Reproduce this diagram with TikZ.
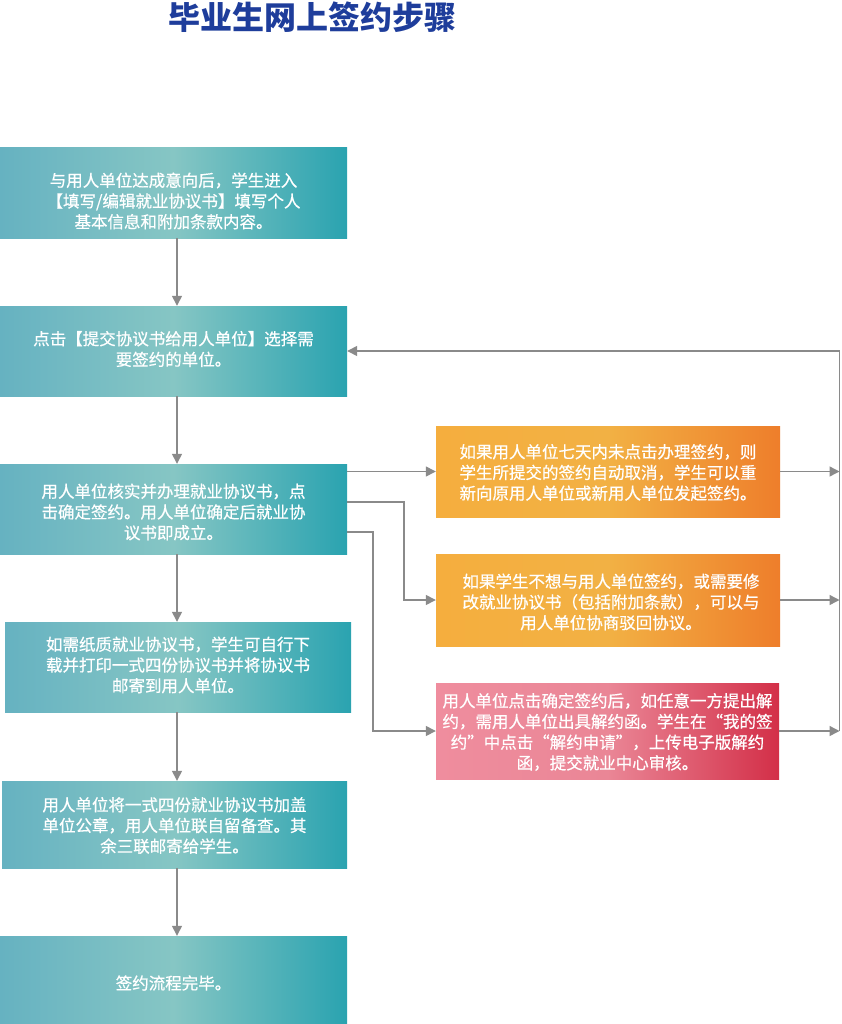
\documentclass[tikz,border=0pt]{standalone}
\usepackage{fontspec}
\newfontfamily\cjk{Noto Sans CJK SC}[FakeBold=0.6]
\newfontfamily\cjkt{Noto Sans CJK SC}
\newfontfamily\cjkfw{Noto Sans CJK SC}[CharacterWidth=Full,FakeBold=0.6]
\usetikzlibrary{arrows.meta,calc}
\definecolor{tealA}{HTML}{66B2C1}
\definecolor{tealB}{HTML}{86C6C4}
\definecolor{tealC}{HTML}{2AA3B0}
\definecolor{orA}{HTML}{F5AE3E}
\definecolor{orB}{HTML}{F2B144}
\definecolor{orC}{HTML}{EE7E2B}
\definecolor{pkA}{HTML}{EF8D9E}
\definecolor{pkB}{HTML}{EA8696}
\definecolor{pkC}{HTML}{D32F48}
\definecolor{linegray}{HTML}{8A8A8A}
\definecolor{titleblue}{HTML}{1E3D9B}
\tikzset{
  boxbase/.style={rectangle, inner sep=0pt, draw=none},
  tealbox/.style={boxbase, minimum width=347pt, minimum height=90pt,
    left color=tealA, right color=tealC, middle color=tealB},
  orbox/.style={boxbase, minimum width=344pt, minimum height=91pt,
    left color=orA, right color=orC, middle color=orB},
  pkbox/.style={boxbase, minimum width=343pt, minimum height=96pt,
    left color=pkA, right color=pkC, middle color=pkB},
  txt/.style={text=white, align=center, inner sep=0pt,
    font=\cjk\fontsize{16.5}{20.7}\selectfont},
  arr/.style={draw=linegray, line width=1.4pt, -{Triangle[length=10pt,width=10pt]}},
}
\begin{document}
\begin{tikzpicture}[x=1pt,y=-1pt]
\useasboundingbox (0,0) rectangle (841,1024);
\fill[white] (0,0) rectangle (841,1024);

\node[text=titleblue, font=\cjkt\bfseries\fontsize{32}{32}\selectfont, inner sep=0pt] (title) at (312,17) {毕业生网上签约步骤};

% left column
\node[tealbox] (b1) at (173.5,193) {};
\node[txt] (t1) at ([yshift=-8pt]b1.center) {与用人单位达成意向后，学生进入\\【填写/编辑就业协议书】填写个人\\基本信息和附加条款内容。};

\node[tealbox] (b2) at (173.5,351) {};
\node[txt] (t2) at ([yshift=2pt]b2.center) {点击【提交协议书给用人单位】选择需\\要签约的单位。};

\node[tealbox] (b3) at (173.5,509) {};
\node[txt] (t3) at ([yshift=-3pt]b3.center) {用人单位核实并办理就业协议书，点\\击确定签约。用人单位确定后就业协\\议书即成立。};

\node[tealbox, minimum width=346pt] (b4) at (178,667) {};
\node[txt] (t4) at ([yshift=2pt]b4.center) {如需纸质就业协议书，学生可自行下\\载并打印一式四份协议书并将协议书\\邮寄到用人单位。};

\node[tealbox, minimum width=345pt, minimum height=87pt] (b5) at (174.5,824.5) {};
\node[txt] (t5) at ([yshift=-1pt]b5.center) {用人单位将一式四份就业协议书加盖\\单位公章，用人单位联自留备查。其\\余三联邮寄给学生。};

\node[tealbox, minimum height=88pt] (b6) at (173.5,980) {};
\node[txt] (t6) at ([yshift=-3pt]b6.center) {签约流程完毕。};

% right column
\node[orbox] (o1) at (608,471.5) {};
\node[txt] (u1) at ([yshift=-1pt]o1.center) {如果用人单位七天内未点击办理签约，则\\学生所提交的签约自动取消，学生可以重\\新向原用人单位或新用人单位发起签约。};

\node[orbox, minimum height=92pt] (o2) at (608,600) {};
\node[txt] (u2) at ([xshift=3pt,yshift=-2pt]o2.center) {如果学生不想与用人单位签约，或需要修\\改就业协议书（包括附加条款），可以与\\用人单位协商驳回协议。};

\node[pkbox] (p1) at (607.5,731) {};
\node[txt] (v1) at ([yshift=-1pt]p1.center) {用人单位点击确定签约后，如任意一方提出解\\约，需用人单位出具解约函。学生在{\cjkfw “}我的签\\约{\cjkfw ”}中点击{\cjkfw “}解约申请{\cjkfw ”}，上传电子版解约\\函，提交就业中心审核。};

% helper coordinates
\coordinate (ax) at (177,0);
\coordinate (rx) at (839.5,0);
\coordinate (k2) at (404,502);
\coordinate (k3) at (373,532);

% vertical flow
\draw[arr] (b1.south -| ax) -- (b2.north -| ax);
\draw[arr] (b2.south -| ax) -- (b3.north -| ax);
\draw[arr] (b3.south -| ax) -- (b4.north -| ax);
\draw[arr] (b4.south -| ax) -- (b5.north -| ax);
\draw[arr] (b5.south -| ax) -- (b6.north -| ax);

% branches
\draw[arr] (b3.east |- o1.west) -- (o1.west);
\draw[arr] (b3.east |- k2) -- (k2) |- (o2.west);
\draw[arr] (b3.east |- k3) -- (k3) |- (p1.west);

\draw[arr] (o1.east) -- (o1.east -| rx);
\draw[arr] (o2.east) -- (o2.east -| rx);
\draw[arr] (p1.east) -- (p1.east -| rx);
\draw[arr] (p1.east -| rx) |- (b2.east);
\end{tikzpicture}
\end{document}
